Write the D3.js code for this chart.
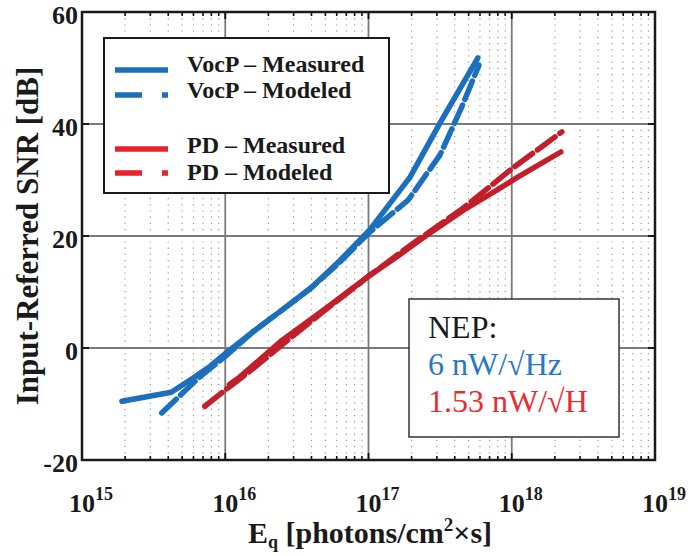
<!DOCTYPE html>
<html><head><meta charset="utf-8">
<script src="https://cdn.jsdelivr.net/npm/d3@7"></script>
<style>body{margin:0;background:#fff}svg{display:block}</style>
</head><body>
<svg id="c" width="690" height="556"></svg>
<script>
// ---- data ----
const xTickExps = [15, 16, 17, 18, 19];
const yTicks = [-20, 0, 20, 40, 60];
const vocpMeasuredE   = [1.9e15, 4.2e15, 6.0e15, 7.9e15, 1e16, 1.58e16, 2.5e16, 4e16, 6.3e16, 1.02e17, 1.95e17, 3.16e17, 5.8e17];
const vocpMeasuredSNR = [-9.5,  -7.9,   -5.3,   -3.2,   -1,   3,       6.8,    10.8,  15.6,  21.1,    30.5,    40.2,    51.8];
const vocpModeledE    = [3.6e15, 6.6e15, 1e16, 1.58e16, 2.5e16, 4e16, 6.3e16, 1e17, 1.89e17, 3.16e17, 4.47e17, 5.9e17];
const vocpModeledSNR  = [-11.6,  -5.2,   -1.5,  3,       6.8,    10.8,  15.3,  20.5, 26.4,    34.5,    43,      50.5];
const pdMeasuredE     = [1.07e16, 1.26e16, 2.5e16, 5e16, 1e17, 1.58e17, 2.5e17, 4.6e17, 7.1e17, 1.1e18, 2.2e18];
const pdMeasuredSNR   = [-6.5,    -5.2,    1.4,    7,    12.8, 16.3,    20,     24.6,   27.5,   30.5,   35];
const pdModeledE      = [7.2e15, 1e16, 1.58e16, 2.5e16, 5e16, 1e17, 2e17, 4.6e17, 1e18, 2.24e18];
const pdModeledSNR    = [-10.4,  -7.5, -3.6,    0.6,    6.8,  12.8, 18.5, 25,     32,   38.6];
const legendLabels = ["VocP \u2013 Measured", "VocP \u2013 Modeled", "PD \u2013 Measured", "PD \u2013 Modeled"];
const nepLines = ["NEP:", "6 nW/\u221AHz", "1.53 nW/\u221AH"];

// ---- layout ----
const svg = d3.select("#c");
const L = 82, R = 655, T = 12, B = 460;
const x = d3.scaleLog().domain([1e15, 1e19]).range([L, R]);
const y = d3.scaleLinear().domain([-20, 60]).range([B, T]);
const blue = "#1c6fbd", redLine = "#c21f2a", redLeg = "#e8222a";
const serif = "'Liberation Serif','Times New Roman',serif";

// minor dotted grid
const minors = [];
for (let e = 15; e < 19; e++) for (let k = 2; k <= 9; k++) minors.push(k * Math.pow(10, e));
svg.append("g").selectAll("line").data(minors).join("line")
  .attr("x1", d => x(d)).attr("x2", d => x(d)).attr("y1", T).attr("y2", B)
  .attr("stroke", "#999").attr("stroke-width", 1.2).attr("stroke-dasharray", "1.2,5");
// major grid
const majorsX = xTickExps.slice(1, -1).map(e => Math.pow(10, e));
svg.append("g").selectAll("line").data(majorsX).join("line")
  .attr("x1", d => x(d)).attr("x2", d => x(d)).attr("y1", T).attr("y2", B)
  .attr("stroke", "#7a7a7a").attr("stroke-width", 1.8);
svg.append("g").selectAll("line").data(yTicks.slice(1, -1)).join("line")
  .attr("x1", L).attr("x2", R).attr("y1", d => y(d)).attr("y2", d => y(d))
  .attr("stroke", "#7a7a7a").attr("stroke-width", 1.8);

// ticks
const tg = svg.append("g");
minors.forEach(d => {
  tg.append("line").attr("x1", x(d)).attr("x2", x(d)).attr("y1", B).attr("y2", B - 4).attr("stroke", "#111").attr("stroke-width", 1.6);
  tg.append("line").attr("x1", x(d)).attr("x2", x(d)).attr("y1", T).attr("y2", T + 4).attr("stroke", "#111").attr("stroke-width", 1.6);
});
majorsX.forEach(d => {
  tg.append("line").attr("x1", x(d)).attr("x2", x(d)).attr("y1", B).attr("y2", B - 7).attr("stroke", "#111").attr("stroke-width", 1.8);
  tg.append("line").attr("x1", x(d)).attr("x2", x(d)).attr("y1", T).attr("y2", T + 7).attr("stroke", "#111").attr("stroke-width", 1.8);
});
yTicks.slice(1, -1).forEach(d => {
  tg.append("line").attr("x1", L).attr("x2", L + 7).attr("y1", y(d)).attr("y2", y(d)).attr("stroke", "#111").attr("stroke-width", 1.8);
  tg.append("line").attr("x1", R).attr("x2", R - 7).attr("y1", y(d)).attr("y2", y(d)).attr("stroke", "#111").attr("stroke-width", 1.8);
});

// lines
const line = d3.line().x(d => x(d[0])).y(d => y(d[1])).curve(d3.curveLinear);
function drawSeries(E, S, color, dash) {
  svg.append("path").datum(E.map((e, i) => [e, S[i]])).attr("d", line)
    .attr("fill", "none").attr("stroke", color).attr("stroke-width", 5.5)
    .attr("stroke-linecap", "round").attr("stroke-linejoin", "round")
    .attr("stroke-dasharray", dash || null);
}
drawSeries(pdMeasuredE, pdMeasuredSNR, redLine);
drawSeries(pdModeledE, pdModeledSNR, redLine, "22,6");
drawSeries(vocpMeasuredE, vocpMeasuredSNR, blue);
drawSeries(vocpModeledE, vocpModeledSNR, blue, "20,6");

// frame
svg.append("rect").attr("x", L).attr("y", T).attr("width", R - L).attr("height", B - T)
  .attr("fill", "none").attr("stroke", "#1a1a1a").attr("stroke-width", 2.5);

// y tick labels
svg.append("g").selectAll("text").data(yTicks).join("text")
  .attr("x", L - 4).attr("y", d => y(d) + 12).attr("text-anchor", "end")
  .attr("font-family", serif).attr("font-weight", "bold").attr("font-size", 26).attr("fill", "#1a1a1a")
  .text(d => d);
// x tick labels
xTickExps.forEach(e => {
  const t = svg.append("text").attr("x", x(Math.pow(10, e)) + 9).attr("y", 512)
    .attr("text-anchor", "middle").attr("font-family", serif).attr("font-weight", "bold")
    .attr("font-size", 26).attr("fill", "#1a1a1a");
  t.append("tspan").text("10");
  t.append("tspan").attr("dy", -12).attr("font-size", 18).text(e);
});
// axis titles
const xt = svg.append("text").attr("x", 370).attr("y", 543).attr("text-anchor", "middle")
  .attr("font-family", serif).attr("font-weight", "bold").attr("font-size", 30).attr("fill", "#1a1a1a");
xt.append("tspan").text("E");
xt.append("tspan").attr("dy", 5).attr("font-size", 18).text("q");
xt.append("tspan").attr("dy", -5).text(" [photons/cm");
xt.append("tspan").attr("dy", -12).attr("font-size", 19).text("2");
xt.append("tspan").attr("dy", 12).text("\u00D7s]");
svg.append("text").attr("transform", "translate(38," + ((T + B) / 2) + ") rotate(-90)")
  .attr("text-anchor", "middle").attr("font-family", serif).attr("font-weight", "bold")
  .attr("font-size", 31).attr("fill", "#1a1a1a").text("Input-Referred SNR [dB]");

// legend
const lg = svg.append("g");
lg.append("rect").attr("x", 104).attr("y", 38).attr("width", 285).attr("height", 155)
  .attr("fill", "#fff").attr("stroke", "#1a1a1a").attr("stroke-width", 2);
const legLineY = [70, 95, 149, 173];
const legTextY = [72, 98, 153, 180];
const legColors = [blue, blue, redLeg, redLeg];
legendLabels.forEach((lab, i) => {
  lg.append("line").attr("x1", 115).attr("x2", 168).attr("y1", legLineY[i]).attr("y2", legLineY[i])
    .attr("stroke", legColors[i]).attr("stroke-width", 5.5)
    .attr("stroke-dasharray", i % 2 ? "27,20,6,20" : null);
  lg.append("text").attr("x", 187).attr("y", legTextY[i]).attr("font-family", serif)
    .attr("font-weight", "bold").attr("font-size", 24).attr("fill", "#1a1a1a").text(lab);
});

// NEP box
const ng = svg.append("g");
ng.append("rect").attr("x", 409).attr("y", 299).attr("width", 210).attr("height", 138)
  .attr("fill", "#fff").attr("stroke", "#333").attr("stroke-width", 1.5);
const nepColors = ["#1a1a1a", "#2a78c4", "#ec2a30"];
const nepY = [338, 375, 412];
nepLines.forEach((t, i) => {
  ng.append("text").attr("x", 428).attr("y", nepY[i]).attr("font-family", serif)
    .attr("font-size", 32).attr("fill", nepColors[i]).text(t);
});
</script>
</body></html>
